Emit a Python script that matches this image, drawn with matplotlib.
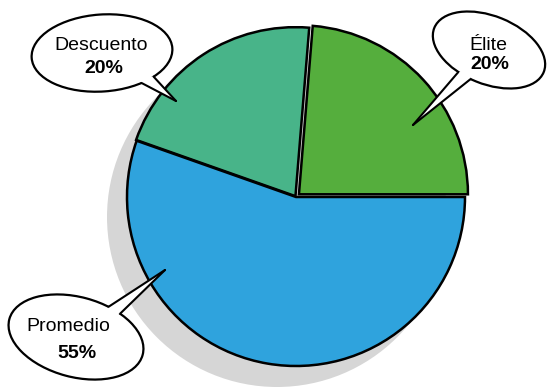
import numpy as np
import matplotlib.pyplot as plt
from matplotlib.patches import Ellipse, Circle, Polygon

# data
segments = ["Élite", "Descuento", "Promedio"]
shares = [23.7, 20.9, 55.4]          # slice sizes as drawn
pct_labels = ["20%", "20%", "55%"]   # percentages printed in the callouts
colors = ["#55ae3d", "#48b489", "#2fa3dd"]

H = 389.0

def Y(y):
    # pixel row -> data y (y up)
    return H - y

fig = plt.figure(figsize=(5.47, 3.89), dpi=100)
ax = fig.add_axes([0, 0, 1, 1])

# soft shadow behind the pie
ax.add_patch(Circle((277, Y(217)), 170, color="#d6d6d6", zorder=0, lw=0))

# explode is in data units here (1 unit = 1 px)
wedges, _ = ax.pie(shares, colors=colors, startangle=0, counterclock=True,
                   center=(296, Y(197)), radius=169,
                   explode=[4, 1, 0],
                   wedgeprops=dict(edgecolor="black", linewidth=1.8))
for w in wedges:
    w.set_zorder(2)

ax.set_xlim(0, 547)
ax.set_ylim(0, H)
ax.set_aspect("equal")
ax.axis("off")


def ellipse_point(cx, cy, w, h, ang, t):
    a = np.deg2rad(ang)
    t = np.deg2rad(t)
    x = w / 2 * np.cos(t)
    y = h / 2 * np.sin(t)
    return (cx + x * np.cos(a) - y * np.sin(a), cy + x * np.sin(a) + y * np.cos(a))


def bubble(cx, cy, w, h, ang, t1, t2, tip, lines):
    ax.add_patch(Ellipse((cx, cy), w, h, angle=ang, facecolor="white",
                         edgecolor="black", lw=1.6, zorder=5))
    b1 = ellipse_point(cx, cy, w, h, ang, t1)
    b2 = ellipse_point(cx, cy, w, h, ang, t2)
    inner = ellipse_point(cx, cy, w * 0.8, h * 0.8, ang, (t1 + t2) / 2)
    ax.add_patch(Polygon([b1, tip, b2, inner], closed=True, facecolor="white",
                         edgecolor="none", zorder=6))
    ax.plot([b1[0], tip[0]], [b1[1], tip[1]], color="black", lw=1.5, zorder=7,
            solid_capstyle="round")
    ax.plot([b2[0], tip[0]], [b2[1], tip[1]], color="black", lw=1.5, zorder=7,
            solid_capstyle="round")
    for (tx, ty, s, wt) in lines:
        ax.text(tx, ty, s, ha="center", va="baseline", fontsize=14,
                fontweight=wt, family="Liberation Sans", zorder=8)


# Descuento callout
bubble(102, Y(53), 141, 77, 4, -58, -45, (176, Y(101)),
       [(101, Y(50), segments[1], "normal"), (104, Y(73), pct_labels[1], "bold")])

# Élite callout
bubble(489, Y(50), 118, 68, -22, -110, -96, (413, Y(125)),
       [(488, Y(50), segments[0], "normal"), (490, Y(69), pct_labels[0], "bold")])

# Promedio callout
bubble(76, Y(337), 138, 80, -15, 58, 70, (165, Y(270)),
       [(68, Y(331), segments[2], "normal"), (77, Y(358), pct_labels[2], "bold")])

fig.savefig("out.png", dpi=100)
